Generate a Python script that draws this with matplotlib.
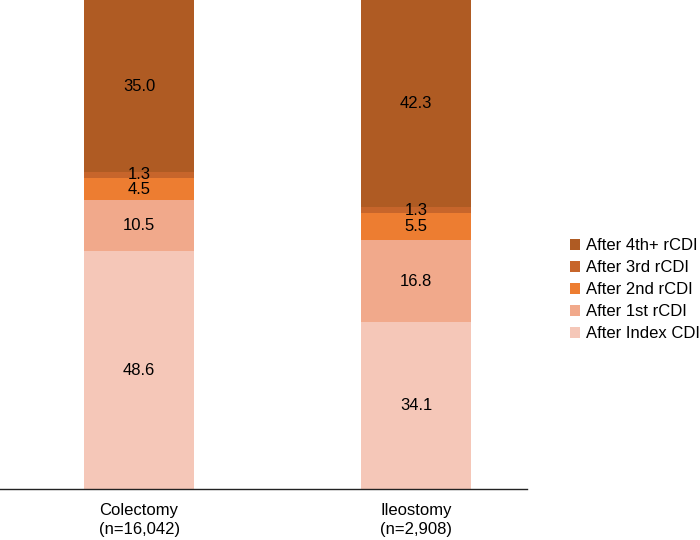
import matplotlib
matplotlib.use("Agg")
import matplotlib.pyplot as plt
import numpy as np

plt.rcParams['font.family'] = ['Liberation Sans', 'DejaVu Sans']

categories = ["Colectomy\n(n=16,042)", "Ileostomy\n(n=2,908)"]
series_names = ["After Index CDI", "After 1st rCDI", "After 2nd rCDI", "After 3rd rCDI", "After 4th+ rCDI"]
index_cdi = [48.6, 34.1]
first_r = [10.5, 16.8]
second_r = [4.5, 5.5]
third_r = [1.3, 1.3]
fourth_r = [35.0, 42.3]
colors = ["#F5C7B8", "#F1A98B", "#ED7D31", "#C7652B", "#AF5B23"]

series = [index_cdi, first_r, second_r, third_r, fourth_r]

fig = plt.figure(figsize=(7, 5.4), dpi=100)
ax = fig.add_axes([0.0, 0.0944, 0.753, 0.9056])
x = np.arange(len(categories))
bottom = np.zeros(len(categories))
handles = []
for name, vals, c in zip(series_names, series, colors):
    vals = np.array(vals)
    b = ax.bar(x, vals, width=0.397, bottom=bottom, color=c, label=name)
    handles.append(b)
    for xi, v, bt in zip(x, vals, bottom):
        ax.text(xi, bt + v / 2, f"{v:.1f}", ha='center', va='center', fontsize=12, color='black')
    bottom += vals

ax.set_xlim(-0.502, 1.40)
ax.set_ylim(0, 100)
ax.set_xticks(x)
ax.set_xticklabels(categories, fontsize=12, linespacing=1.35)
ax.tick_params(axis='x', length=0, pad=10)
ax.set_yticks([])
for s in ['top', 'right', 'left']:
    ax.spines[s].set_visible(False)
ax.spines['bottom'].set_color('#222222')
ax.spines['bottom'].set_linewidth(1.0)

fig.legend(handles[::-1], series_names[::-1], loc='center left', bbox_to_anchor=(0.814, 0.463),
           frameon=False, fontsize=12, handlelength=0.6, handleheight=0.6,
           handletextpad=0.4, labelspacing=0.42, borderaxespad=0, borderpad=0)

fig.savefig("out.png", dpi=100)
